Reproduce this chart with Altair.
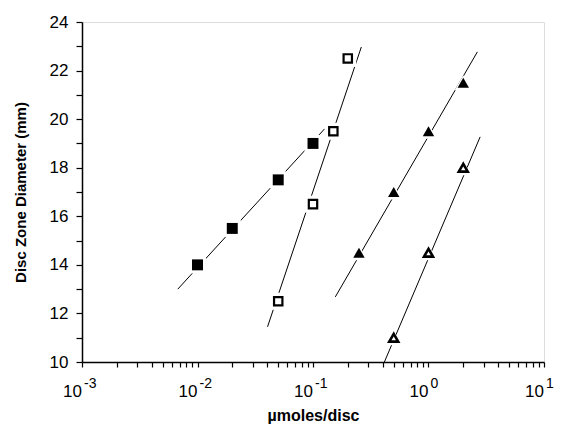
import altair as alt
import pandas as pd

# Data points
fsq_x = [0.01, 0.02, 0.05, 0.1]
fsq_y = [14.0, 15.5, 17.5, 19.0]
osq_x = [0.05, 0.1, 0.15, 0.2]
osq_y = [12.5, 16.5, 19.5, 22.5]
ftri_x = [0.25, 0.5, 1.0, 2.0]
ftri_y = [14.5, 17.0, 19.5, 21.5]
otri_x = [0.5, 1.0, 2.0]
otri_y = [11.0, 14.5, 18.0]

# Fitted line endpoints
line_series = ["fsq", "fsq", "osq", "osq", "ftri", "ftri", "otri", "otri"]
line_x = [0.00675, 0.126, 0.0404, 0.262, 0.156, 2.65, 0.415, 2.8]
line_y = [13.0, 19.6, 11.45, 22.97, 12.68, 22.77, 10.0, 19.27]

# Axis ticks and labels
x_exponents = [-3, -2, -1, 0, 1]
x_tick_values = [m * 10 ** e for e in [-3, -2, -1, 0] for m in range(1, 10)] + [10]
y_tick_values = list(range(10, 25))

FONT = "Liberation Sans"

xs = alt.Scale(type="log", domain=[0.001, 10], nice=False)
ys = alt.Scale(domain=[10, 24], nice=False, zero=False)

x_axis = alt.Axis(values=x_tick_values, labels=False, tickSize=5, tickColor="black",
                  domainColor="black", domainWidth=1.5, tickWidth=1.2, grid=False,
                  title="µmoles/disc", titleFont=FONT, titleFontSize=16, titleFontWeight="bold",
                  titlePadding=40, titleColor="black")
y_axis = alt.Axis(values=y_tick_values, labelExpr="datum.value % 2 == 0 ? datum.label : ''",
                  tickSize=6, tickColor="black", domainColor="black", domainWidth=1.5, tickWidth=1.2,
                  grid=False, labelFont=FONT, labelFontSize=17, labelColor="black", labelPadding=8,
                  title="Disc Zone Diameter (mm)", titleFont=FONT, titleFontSize=15,
                  titleFontWeight="bold", titlePadding=21, titleColor="black")

lines_df = pd.DataFrame({"series": line_series, "x": line_x, "y": line_y})
fsq_df = pd.DataFrame({"x": fsq_x, "y": fsq_y})
osq_df = pd.DataFrame({"x": osq_x, "y": osq_y})
ftri_df = pd.DataFrame({"x": ftri_x, "y": ftri_y})
otri_df = pd.DataFrame({"x": otri_x, "y": otri_y})
all_sq = pd.concat([fsq_df, osq_df])
all_tri = pd.concat([ftri_df, otri_df])

X = alt.X("x:Q", scale=xs, axis=x_axis)
Y = alt.Y("y:Q", scale=ys, axis=y_axis)

lines = alt.Chart(lines_df).mark_line(color="black", strokeWidth=1).encode(X, Y, detail="series:N")

halo_sq = alt.Chart(all_sq).mark_point(shape="square", filled=True, color="white", size=290, opacity=1).encode(X, Y)
halo_tri = alt.Chart(all_tri).mark_point(shape="triangle-up", filled=True, color="white", size=300, opacity=1).encode(X, Y)

fsq = alt.Chart(fsq_df).mark_point(shape="square", filled=True, color="black", size=120, opacity=1).encode(X, Y)
osq = alt.Chart(osq_df).mark_point(shape="square", filled=True, fill="white", stroke="black",
                                   strokeWidth=2.2, size=70, opacity=1).encode(X, Y)
ftri = alt.Chart(ftri_df).mark_point(shape="triangle-up", filled=True, color="black", size=130, opacity=1).encode(X, Y)
otri = alt.Chart(otri_df).mark_point(shape="triangle-up", filled=True, fill="white", stroke="black",
                                     strokeWidth=2.6, size=80, opacity=1).encode(X, Y)

lab_df = pd.DataFrame({"x": [10.0 ** e for e in x_exponents],
                       "base": ["10"] * len(x_exponents),
                       "exp": [str(e) for e in x_exponents]})
base_txt = alt.Chart(lab_df).mark_text(align="right", baseline="alphabetic", dx=0, font=FONT,
                                       fontSize=17, color="black").encode(
    x=alt.X("x:Q", scale=xs, axis=x_axis), y=alt.value(375), text="base:N")
exp_txt = alt.Chart(lab_df).mark_text(align="left", baseline="alphabetic", dx=2, font=FONT,
                                      fontSize=14, color="black").encode(
    x=alt.X("x:Q", scale=xs, axis=x_axis), y=alt.value(366), text="exp:N")

chart = alt.layer(lines, halo_sq, halo_tri, fsq, osq, ftri, otri, base_txt, exp_txt).properties(
    width=462, height=340, padding={"left": 5, "top": 5, "right": 0, "bottom": 5}
).configure_view(stroke="black", strokeWidth=1.5).configure(background="white")

chart.save("out.html", embed_options={"renderer": "svg", "actions": False})
